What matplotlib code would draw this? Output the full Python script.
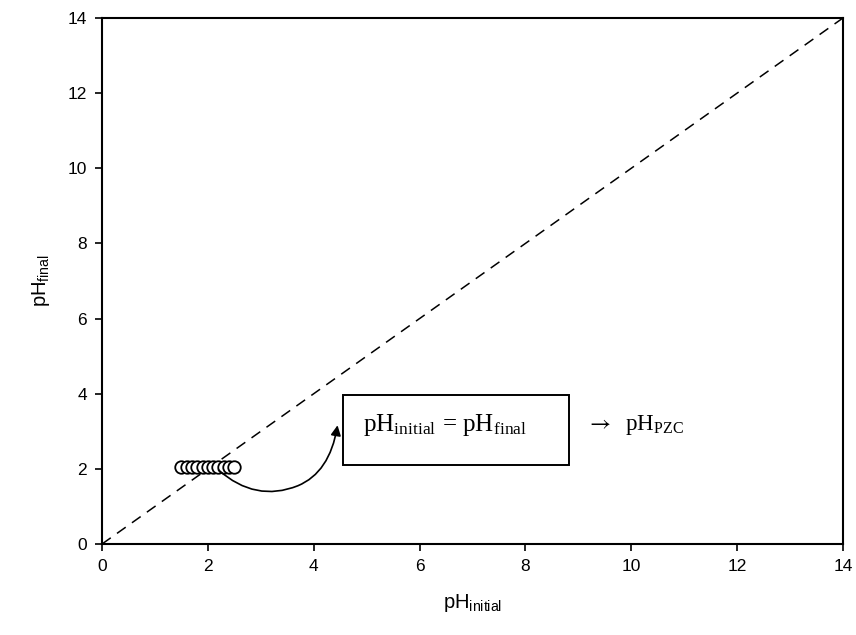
import matplotlib
matplotlib.use("Agg")
from matplotlib import pyplot as plt
from matplotlib.path import Path
from matplotlib.patches import FancyArrowPatch, Rectangle

plt.rcParams['font.family'] = ['Liberation Sans', 'DejaVu Sans']
plt.rcParams['mathtext.fontset'] = 'custom'
plt.rcParams['mathtext.rm'] = 'Liberation Sans'

# data
ph_initial = [1.5, 1.6, 1.7, 1.8, 1.9, 2.0, 2.1, 2.2, 2.3, 2.4, 2.5]
ph_final = [2.05, 2.05, 2.05, 2.05, 2.05, 2.05, 2.05, 2.05, 2.05, 2.05, 2.05]
diag = [0, 14]
ticks = [0, 2, 4, 6, 8, 10, 12, 14]

fig = plt.figure(figsize=(8.56, 6.35), dpi=100)
ax = fig.add_axes([0.1192, 0.1433, 0.8656, 0.8284])

ax.plot(diag, diag, color='black', lw=1.1, ls=(0, (7, 5)))
ax.plot(ph_initial, ph_final, 'o', ms=9, mfc='white', mec='black', mew=1.3, zorder=3)

# hand-drawn curved arrow from the points to the box
path = Path([(2.2, 1.97), (2.9, 1.1), (3.7, 1.55), (4.3, 1.9), (4.45, 3.16)],
            [Path.MOVETO, Path.CURVE3, Path.CURVE3, Path.CURVE3, Path.CURVE3])
arr = FancyArrowPatch(path=path, arrowstyle='-|>,head_length=6,head_width=3',
                      color='black', lw=1.2, zorder=4)
ax.add_patch(arr)

box = Rectangle((4.55, 2.1), 4.28, 1.87, fill=False, ec='black', lw=1.4, zorder=4)
ax.add_patch(box)

serif = ['Liberation Serif', 'DejaVu Serif']
ax.text(4.93, 3.17, r'pH$_{\mathregular{initial}}$ = pH$_{\mathregular{final}}$',
        fontsize=18, family=serif, va='center', ha='left', math_fontfamily='stix')
ax.text(9.15, 3.17, r'$\rightarrow$  pH$_{\mathregular{PZC}}$',
        fontsize=16.5, family=serif, va='center', ha='left', math_fontfamily='stix')

ax.set_xlim(0, 14)
ax.set_ylim(0, 14)
ax.set_xticks(ticks)
ax.set_yticks(ticks)
ax.tick_params(direction='out', length=5, width=1.2, labelsize=12.5, pad=6,
               top=False, right=False)
for s in ax.spines.values():
    s.set_linewidth(1.5)

ax.set_xlabel(r'pH$_{\mathregular{initial}}$', fontsize=14.5, labelpad=13)
ax.set_ylabel(r'pH$_{\mathregular{final}}$', fontsize=14.5, labelpad=11)

fig.savefig('out.png', dpi=100)
